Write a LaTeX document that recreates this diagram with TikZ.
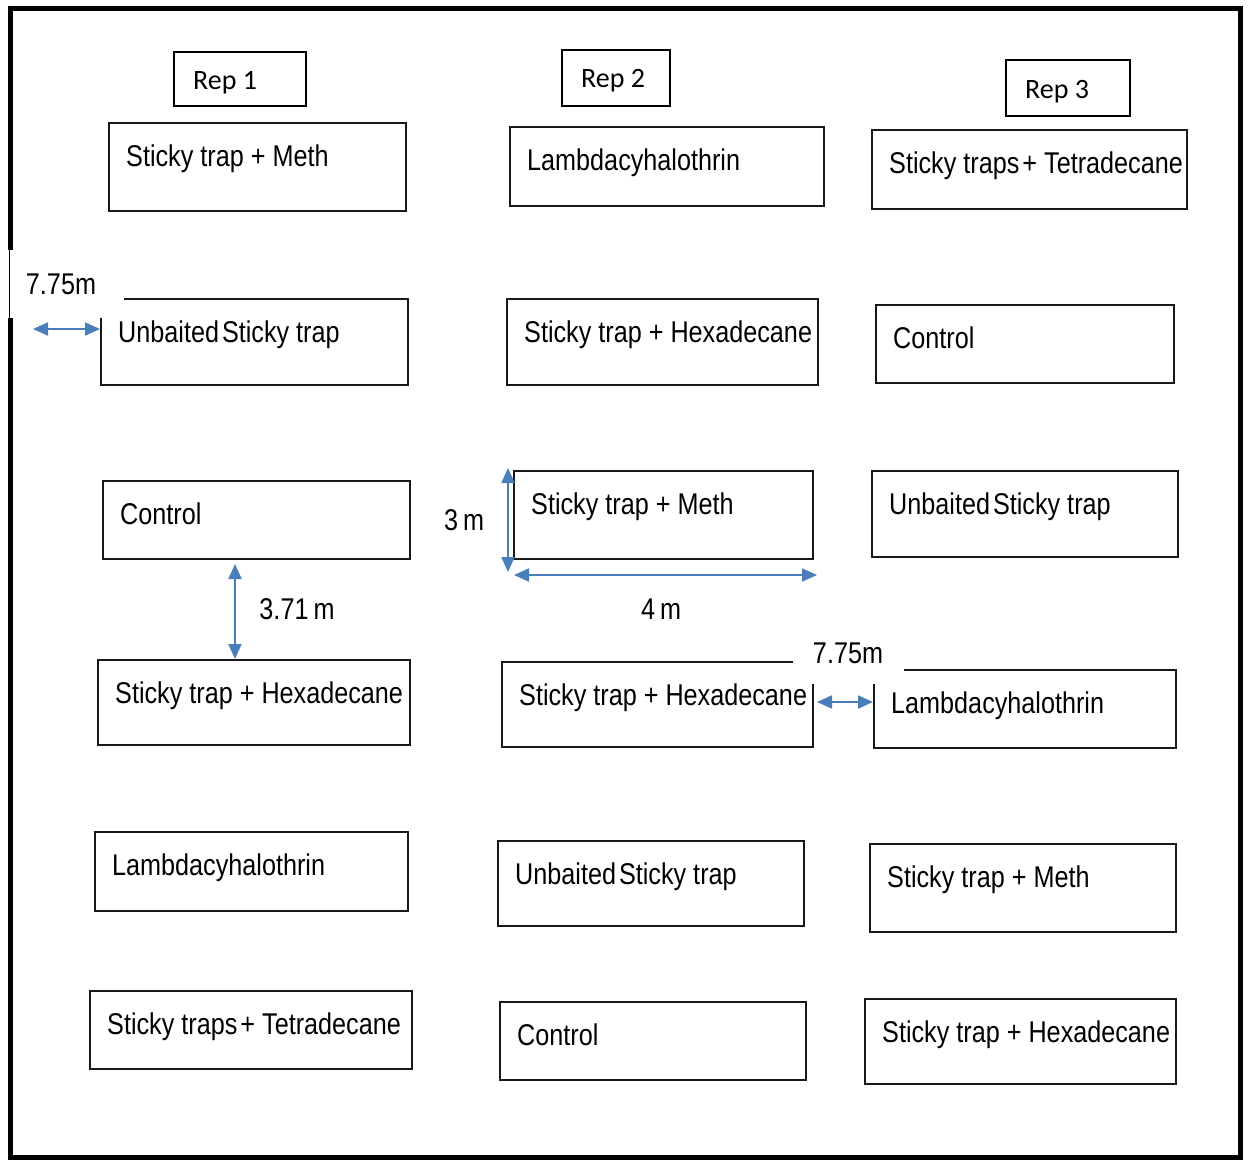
\documentclass[tikz,border=0pt]{standalone}
\usepackage{fontspec}
\setmainfont{Liberation Sans}[FakeStretch=0.84]
\newfontfamily\repfont{Carlito}
\usetikzlibrary{positioning,arrows.meta}
\definecolor{dimblue}{RGB}{74,126,187}
\begin{document}
\begin{tikzpicture}[x=1pt, y=-1pt,
  trap/.style={draw=black!90, line width=2pt, anchor=north west, inner sep=0pt},
  traptext/.style={anchor=base west, xshift=18pt, yshift=-44pt, inner sep=0pt,
    font=\fontsize{30}{36}\selectfont},
  repbox/.style={draw=black, line width=2pt, anchor=north west, inner sep=0pt},
  reptext/.style={anchor=base west, xshift=20pt, yshift=-38pt, inner sep=0pt,
    font=\repfont\fontsize{28}{34}\selectfont},
  dimtext/.style={inner sep=0pt, font=\fontsize{30}{36}\selectfont},
  dim/.style={draw=dimblue, line width=2pt, {Triangle[length=15pt,width=13pt]}-{Triangle[length=15pt,width=13pt]}}]
  \useasboundingbox (0,0) rectangle (1250,1160);

  % Field frame
  \draw[line width=5pt] (10,8) rectangle (1240,1157);

  % Replicates
  \node[repbox, minimum width=132pt, minimum height=54pt] (r1) at (173,51) {};
  \node[repbox, minimum width=108pt, minimum height=56pt] (r2) at (561,49) {};
  \node[repbox, minimum width=124pt, minimum height=56pt] (r3) at (1005,59) {};
  \node[reptext] (r1t) at (r1.north west) {Rep 1};
  \node[reptext] (r2t) at (r2.north west) {Rep 2};
  \node[reptext, yshift=-1pt] (r3t) at (r3.north west) {Rep 3};

  % Rep 1 plots
  \node[trap, minimum width=297pt, minimum height=88pt] (a1) at (108,122) {};
  \node[trap, minimum width=307pt, minimum height=86pt] (b1) at (100,298) {};
  \node[trap, minimum width=307pt, minimum height=78pt] (c1) at (102,480) {};
  \node[trap, minimum width=312pt, minimum height=85pt] (d1) at (97,659) {};
  \node[trap, minimum width=313pt, minimum height=79pt] (e1) at (94,831) {};
  \node[trap, minimum width=322pt, minimum height=78pt] (f1) at (89,990) {};
  \node[traptext] (a1t) at (a1.north west) {Sticky trap + Meth};
  \node[traptext] (b1t) at (b1.north west) {Unbaited\hspace{3pt}Sticky trap};
  \node[traptext] (c1t) at (c1.north west) {Control};
  \node[traptext] (d1t) at (d1.north west) {Sticky trap + Hexadecane};
  \node[traptext] (e1t) at (e1.north west) {Lambdacyhalothrin};
  \node[traptext] (f1t) at (f1.north west) {Sticky traps\hspace{3pt}+ Tetradecane};

  % Rep 2 plots
  \node[trap, minimum width=314pt, minimum height=79pt] (a2) at (509,126) {};
  \node[trap, minimum width=311pt, minimum height=86pt] (b2) at (506,298) {};
  \node[trap, minimum width=299pt, minimum height=88pt] (c2) at (513,470) {};
  \node[trap, minimum width=311pt, minimum height=85pt] (d2) at (501,661) {};
  \node[trap, minimum width=306pt, minimum height=85pt] (e2) at (497,840) {};
  \node[trap, minimum width=306pt, minimum height=78pt] (f2) at (499,1001) {};
  \node[traptext] (a2t) at (a2.north west) {Lambdacyhalothrin};
  \node[traptext] (b2t) at (b2.north west) {Sticky trap + Hexadecane};
  \node[traptext] (c2t) at (c2.north west) {Sticky trap + Meth};
  \node[traptext] (d2t) at (d2.north west) {Sticky trap + Hexadecane};
  \node[traptext] (e2t) at (e2.north west) {Unbaited\hspace{3pt}Sticky trap};
  \node[traptext] (f2t) at (f2.north west) {Control};

  % Rep 3 plots
  \node[trap, minimum width=315pt, minimum height=79pt] (a3) at (871,129) {};
  \node[trap, minimum width=298pt, minimum height=78pt] (b3) at (875,304) {};
  \node[trap, minimum width=306pt, minimum height=86pt] (c3) at (871,470) {};
  \node[trap, minimum width=302pt, minimum height=78pt] (d3) at (873,669) {};
  \node[trap, minimum width=306pt, minimum height=88pt] (e3) at (869,843) {};
  \node[trap, minimum width=311pt, minimum height=85pt] (f3) at (864,998) {};
  \node[traptext] (a3t) at (a3.north west) {Sticky traps\hspace{3pt}+ Tetradecane};
  \node[traptext] (b3t) at (b3.north west) {Control};
  \node[traptext] (c3t) at (c3.north west) {Unbaited\hspace{3pt}Sticky trap};
  \node[traptext] (d3t) at (d3.north west) {Lambdacyhalothrin};
  \node[traptext] (e3t) at (e3.north west) {Sticky trap + Meth};
  \node[traptext] (f3t) at (f3.north west) {Sticky trap + Hexadecane};

  % Distance labels
  \node[dimtext, fill=white, minimum width=126pt, minimum height=68pt] (gapw) at (61,284) {7.75m};
  \draw[line width=1pt] (9,250) -- (9,318);
  \node[dimtext, fill=white, minimum width=111pt, minimum height=62pt] (gapm) at (848,653) {7.75m};
  \node[dimtext] (gapv) at (297,609) {3.71\,m};
  \node[dimtext] (plotl) at (464,520) {3\,m};
  \node[dimtext] (plotw) at (661,609) {4\,m};

  % Dimension arrows
  \coordinate (w1) at (33,329);
  \coordinate (v1) at (235,0);
  \coordinate (m1) at (0,702);
  \draw[dim] (w1) -- (b1.west |- w1);
  \draw[dim] ([yshift=-4pt]c1.south -| v1) -- (d1.north -| v1);
  \draw[dim] ([xshift=-5pt, yshift=2pt]c2.north west) -- ([xshift=-5pt, yshift=-12pt]c2.south west);
  \draw[dim] ([xshift=1pt, yshift=-15pt]c2.south west) -- ([xshift=3pt, yshift=-15pt]c2.south east);
  \draw[dim] ([xshift=3pt]d2.east |- m1) -- (d3.west |- m1);
\end{tikzpicture}
\end{document}
